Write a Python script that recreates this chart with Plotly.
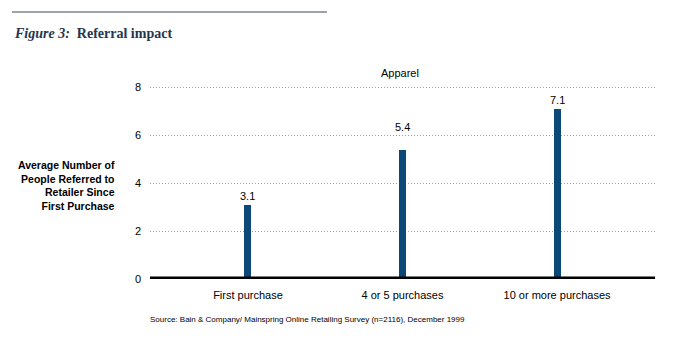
import plotly.graph_objects as go

categories = ["First purchase", "4 or 5 purchases", "10 or more purchases"]
values = [3.1, 5.4, 7.1]
value_labels = ["3.1", "5.4", "7.1"]
label_shift = [9, 23, 9]
y_ticks = [0, 2, 4, 6, 8]
series_name = "Apparel"
y_title = "Average Number of<br>People Referred to<br>Retailer Since<br>First Purchase"
source = "Source: Bain & Company/ Mainspring Online Retailing Survey (n=2116), December 1999"

W, H = 688, 340
L, R, T, B = 150, 33, 85, 61

fig = go.Figure()
fig.add_trace(go.Bar(
    x=categories, y=values,
    marker=dict(color="#0b4a78", line=dict(width=0)),
    width=0.045, showlegend=False,
))

ann = []
for c, v, t, s in zip(categories, values, value_labels, label_shift):
    ann.append(dict(x=c, y=v, text=t, showarrow=False, yanchor="middle", yshift=s,
                    font=dict(size=11, color="#000000")))

fig.update_layout(
    width=W, height=H,
    margin=dict(l=L, r=R, t=T, b=B, autoexpand=False),
    paper_bgcolor="white", plot_bgcolor="white",
    font=dict(family="Liberation Sans, Arial", size=11, color="#000000"),
    bargap=0,
    xaxis=dict(range=[-0.634, 2.634], showgrid=False, showline=False, zeroline=False,
               ticks="", tickfont=dict(size=11), ticklabelstandoff=8, fixedrange=True),
    yaxis=dict(range=[0, 8.1], tickvals=y_ticks, showgrid=True, gridcolor="#9a9a9a",
               griddash="1px,2px", gridwidth=1, zeroline=False, showline=False,
               ticks="", tickfont=dict(size=11), ticklabelstandoff=8, fixedrange=True),
    shapes=[
        dict(type="line", xref="paper", yref="paper", x0=-(L - 12) / (W - L - R), x1=(327 - L) / (W - L - R),
             y0=1 + (T - 12) / (H - T - B), y1=1 + (T - 12) / (H - T - B),
             line=dict(color="#3c4858", width=1.2)),
        dict(type="line", xref="paper", yref="y", x0=0, x1=1, y0=0, y1=0,
             line=dict(color="#000000", width=5)),
    ],
    annotations=ann + [
        dict(xref="paper", yref="paper", x=-(L - 12) / (W - L - R), y=1 + (T - 33) / (H - T - B),
             xanchor="left", yanchor="middle", showarrow=False,
             text="<b><i>Figure 3:</i>  Referral impact</b>",
             font=dict(family="Liberation Serif, Times New Roman", size=14, color="#26344e")),
        dict(xref="paper", yref="paper", x=(400 - L) / (W - L - R), y=1 + (T - 73) / (H - T - B),
             xanchor="center", yanchor="middle", showarrow=False, text=series_name,
             font=dict(size=11)),
        dict(xref="paper", yref="paper", x=-(L - 117) / (W - L - R), y=(H - B - 185) / (H - T - B),
             xanchor="right", yanchor="middle", align="right", showarrow=False,
             text="<b>" + y_title + "</b>", font=dict(size=10.5)),
        dict(xref="paper", yref="paper", x=-(L - 148) / (W - L - R), y=-(319 - (H - B)) / (H - T - B),
             xanchor="left", yanchor="middle", showarrow=False, text=source,
             font=dict(size=8)),
    ],
)

fig.write_html("out.html")
